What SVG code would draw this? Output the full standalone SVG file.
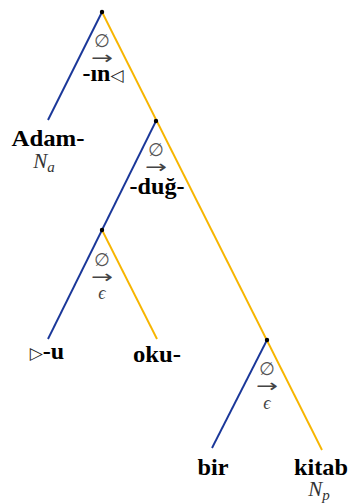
<svg xmlns="http://www.w3.org/2000/svg" width="351" height="504" viewBox="0 0 351 504">
<style>
.b{stroke:#1a3799;stroke-width:1.9;fill:none}
.y{stroke:#f7b500;stroke-width:1.9;fill:none}
.w{font-family:"Liberation Serif",serif;font-weight:bold;font-size:24px;fill:#000;text-anchor:middle}
.t{font-family:"DejaVu Sans",sans-serif;font-weight:normal;font-size:17px;fill:#222}
.n{font-family:"Liberation Serif",serif;font-style:italic;font-size:21px;fill:#333;text-anchor:middle}
.s{font-family:"DejaVu Sans",sans-serif;font-size:18px;fill:#555;text-anchor:middle}
.a{font-family:"DejaVu Sans",sans-serif;font-size:18px;fill:#444;text-anchor:middle}
.e{font-family:"Liberation Serif",serif;font-style:italic;font-size:18px;fill:#444;text-anchor:middle}
.d{fill:#000}
</style>
<rect width="351" height="504" fill="#fff"/>
<g id="connectors">
<line class="b" x1="102" y1="12" x2="48" y2="120"/>
<line class="y" x1="102" y1="12" x2="322" y2="450"/>
<line class="b" x1="156" y1="121" x2="102" y2="230"/>
<line class="b" x1="102" y1="230" x2="48" y2="339"/>
<line class="y" x1="102" y1="230" x2="157" y2="339"/>
<line class="b" x1="267" y1="340" x2="212" y2="448"/>
</g>
<g id="root">
<circle class="d" cx="102" cy="12" r="2.2"/>
<text class="s" x="102" y="47">∅</text>
<text class="a" x="102" y="64" textLength="22" lengthAdjust="spacingAndGlyphs">→</text>
<text class="w" x="103" y="81">-ın<tspan class="t">◁</tspan></text>
</g>
<g id="node2">
<circle class="d" cx="156" cy="121" r="2.2"/>
<text class="s" x="156" y="156">∅</text>
<text class="a" x="156" y="173" textLength="22" lengthAdjust="spacingAndGlyphs">→</text>
<text class="w" x="157" y="194" textLength="55" lengthAdjust="spacingAndGlyphs">-duğ-</text>
</g>
<g id="node3">
<circle class="d" cx="102" cy="230" r="2.2"/>
<text class="s" x="102" y="266">∅</text>
<text class="a" x="102" y="283" textLength="22" lengthAdjust="spacingAndGlyphs">→</text>
<text class="e" x="102" y="299">ϵ</text>
</g>
<g id="node4">
<circle class="d" cx="267" cy="340" r="2.2"/>
<text class="s" x="267" y="375">∅</text>
<text class="a" x="267" y="392" textLength="22" lengthAdjust="spacingAndGlyphs">→</text>
<text class="e" x="267" y="409">ϵ</text>
</g>
<g id="adam">
<text class="w" x="48" y="146" textLength="73" lengthAdjust="spacingAndGlyphs">Adam-</text>
<text class="n" x="44" y="168">N<tspan font-size="15" dy="4">a</tspan></text>
</g>
<g id="u">
<text class="w" x="47" y="359"><tspan class="t">▷</tspan>-u</text>
</g>
<g id="oku">
<text class="w" x="157" y="362" textLength="48" lengthAdjust="spacingAndGlyphs">oku-</text>
</g>
<g id="bir">
<text class="w" x="213" y="475" textLength="31" lengthAdjust="spacingAndGlyphs">bir</text>
</g>
<g id="kitab">
<text class="w" x="321" y="475" textLength="54" lengthAdjust="spacingAndGlyphs">kitab</text>
<text class="n" x="319" y="496">N<tspan font-size="15" dy="4">p</tspan></text>
</g>
</svg>
